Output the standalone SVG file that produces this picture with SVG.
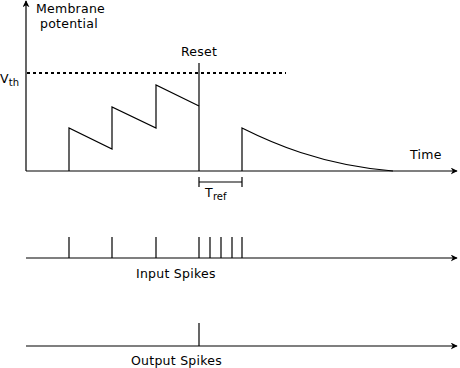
<svg xmlns="http://www.w3.org/2000/svg" width="460" height="368" viewBox="0 0 460 368">
<defs>
<marker id="arr" viewBox="0 0 10 10" refX="9" refY="5" markerWidth="7" markerHeight="7" markerUnits="userSpaceOnUse" orient="auto">
<path d="M0,0 L10,5 L0,10 L3,5 Z" fill="#000"/>
</marker>
</defs>
<style>
.ln{stroke:#000;stroke-width:1.2;fill:none}
.ax{stroke:#000;stroke-width:1.2;fill:none;marker-end:url(#arr)}
text{font-family:"DejaVu Sans",Verdana,sans-serif;font-size:12.5px;letter-spacing:0.25px;fill:#000}
.sub{font-size:10px;letter-spacing:0}
</style>
<rect width="460" height="368" fill="#fff"/>
<g id="connectors">
<line class="ax" x1="26" y1="171" x2="26" y2="1"/>
<line class="ax" x1="26" y1="171" x2="457" y2="171"/>
<line x1="27" y1="73" x2="286" y2="73" stroke="#000" stroke-width="2" stroke-dasharray="3,3"/>
<polyline class="ln" points="69,171 69,128 112,149 112,107 156,128 156,85 199,106"/>
<line class="ln" x1="199" y1="63" x2="199" y2="171"/>
<path class="ln" d="M242,171 L242,128 C270,142 320,165 393,171"/>
<path class="ln" d="M199,182 L242,182 M199,177 L199,187 M242,177 L242,187"/>
<line class="ax" x1="26" y1="258" x2="457" y2="258"/>
<path class="ln" d="M69,237V258M112,237V258M156,237V258M199,237V258M210,237V258M221,237V258M232,237V258M242,237V258"/>
<line class="ax" x1="26" y1="346" x2="457" y2="346"/>
<line class="ln" x1="199" y1="323" x2="199" y2="346"/>
</g>
<g id="labels">
<text x="36" y="13">Membrane</text>
<text x="40" y="28">potential</text>
<text x="181" y="56">Reset</text>
<text x="0" y="83">V<tspan class="sub" dy="3">th</tspan></text>
<text x="410" y="159">Time</text>
<text x="205" y="197">T<tspan class="sub" dy="3">ref</tspan></text>
<text x="136" y="278">Input Spikes</text>
<text x="131" y="365">Output Spikes</text>
</g>
</svg>
